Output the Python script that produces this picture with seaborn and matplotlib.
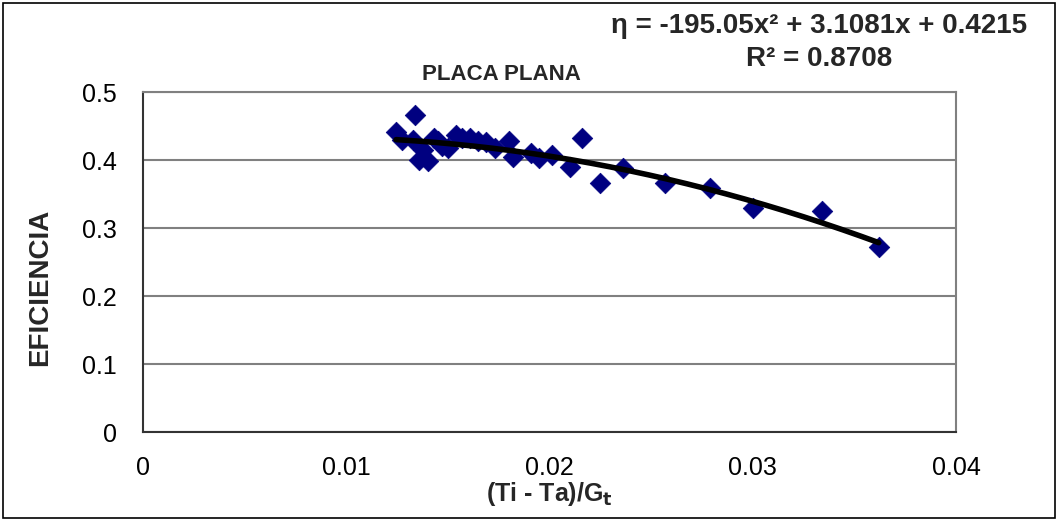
import numpy as np
import pandas as pd
import matplotlib
matplotlib.use("Agg")
import matplotlib.pyplot as plt
import seaborn as sns
from matplotlib.patches import Rectangle

# ---- data ----
x_vals = [0.01245, 0.01275, 0.0134, 0.0133, 0.0136, 0.0140, 0.0138, 0.0143, 0.0147,
          0.0145, 0.0150, 0.0154, 0.0157, 0.0161, 0.0165, 0.0169, 0.0173, 0.0180,
          0.0182, 0.0191, 0.0195, 0.0201, 0.0210, 0.0216, 0.0225, 0.0236, 0.0257,
          0.0279, 0.0300, 0.0334, 0.0362]
y_vals = [0.441, 0.430, 0.466, 0.430, 0.400, 0.398, 0.415, 0.432, 0.420,
          0.428, 0.418, 0.437, 0.432, 0.432, 0.428, 0.427, 0.418, 0.428,
          0.405, 0.410, 0.403, 0.407, 0.390, 0.433, 0.366, 0.388, 0.366,
          0.359, 0.329, 0.325, 0.272]
trend_coefs = [-195.05, 3.1081, 0.4215]
x_ticks = [0, 0.01, 0.02, 0.03, 0.04]
x_tick_labels = ["0", "0.01", "0.02", "0.03", "0.04"]
y_ticks = [0, 0.1, 0.2, 0.3, 0.4, 0.5]
y_tick_labels = ["0", "0.1", "0.2", "0.3", "0.4", "0.5"]

df = pd.DataFrame({"x": x_vals, "y": y_vals})
xs = np.linspace(min(x_vals), max(x_vals), 200)
trend = pd.DataFrame({"x": xs, "y": np.polyval(trend_coefs, xs)})

sns.set_theme(style="white")
plt.rcParams["font.family"] = ["Liberation Sans", "DejaVu Sans"]

fig = plt.figure(figsize=(10.58, 5.21), dpi=100)
ax = fig.add_axes([143 / 1058, (521 - 432) / 521, (956 - 143) / 1058, (432 - 92) / 521])

sns.scatterplot(data=df, x="x", y="y", ax=ax, marker="D", s=110, color="#000080",
                edgecolor="#000080", linewidth=0.5, zorder=3)
sns.lineplot(data=trend, x="x", y="y", ax=ax, color="black", linewidth=4, zorder=4)

ax.set_xlim(0, 0.04)
ax.set_ylim(0, 0.5)
ax.set_xticks(x_ticks)
ax.set_xticklabels(x_tick_labels)
ax.set_yticks(y_ticks)
ax.set_yticklabels(y_tick_labels)
ax.tick_params(axis="both", direction="out", length=6, width=1.2, color="#333333",
               labelsize=18, labelcolor="black")
ax.tick_params(axis="x", pad=11)
ax.tick_params(axis="y", pad=13)
ax.yaxis.grid(True, color="#808080", linewidth=1.5)
ax.xaxis.grid(False)
ax.set_axisbelow(True)
for side in ["top", "right"]:
    ax.spines[side].set_color("#808080")
    ax.spines[side].set_linewidth(1.5)
for side in ["left", "bottom"]:
    ax.spines[side].set_color("#333333")
    ax.spines[side].set_linewidth(1.5)

ax.set_xlabel(r"(Ti - Ta)/G$_\mathbf{t}$", fontsize=18, fontweight="bold")
ax.xaxis.set_label_coords(0.5, (432 - 494) / 340)
ax.xaxis.label.set_va("center")
ax.set_ylabel("EFICIENCIA", fontsize=20, fontweight="bold")
ax.yaxis.set_label_coords((40 - 143) / 813, (432 - 287) / 340)
ax.yaxis.label.set_va("center")
ax.yaxis.label.set_ha("center")

fig.text(501 / 1058, 1 - 75 / 521, "PLACA PLANA", ha="center", va="center",
         fontsize=16, fontweight="bold")
fig.text(819 / 1058, 1 - 26 / 521, "η = -195.05x² + 3.1081x + 0.4215", ha="center",
         va="center", fontsize=20, fontweight="bold")
fig.text(819 / 1058, 1 - 59 / 521, "R² = 0.8708", ha="center", va="center",
         fontsize=20, fontweight="bold")

fig.patches.append(Rectangle((3 / 1058, 3 / 521), 1 - 6 / 1058, 1 - 6 / 521,
                             transform=fig.transFigure, fill=False,
                             edgecolor="black", linewidth=1.2))

fig.savefig("out.png", dpi=100)
